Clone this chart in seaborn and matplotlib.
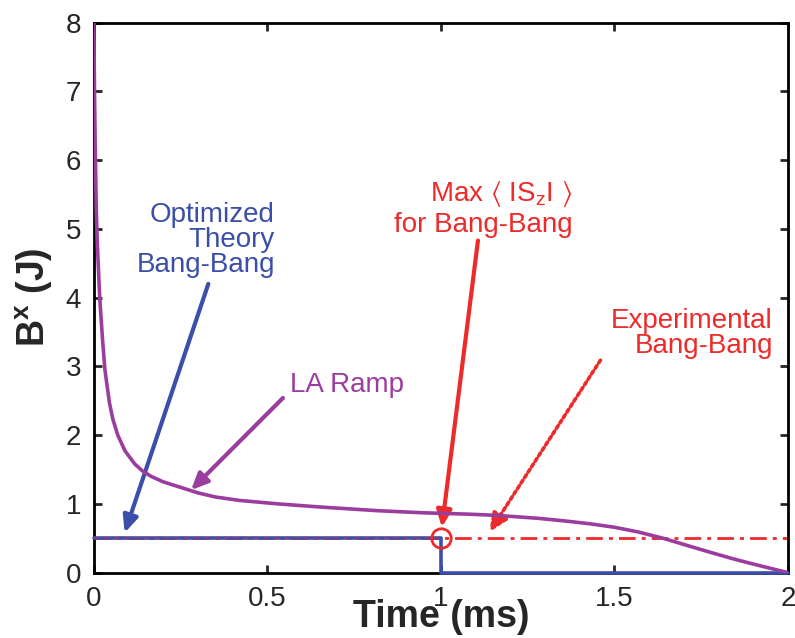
import numpy as np
import pandas as pd
import matplotlib
matplotlib.use("Agg")
import matplotlib.pyplot as plt
import seaborn as sns

# LA ramp
ramp_t = [0.0, 0.002, 0.004, 0.007, 0.010, 0.017, 0.025, 0.032, 0.045, 0.055,
          0.069, 0.09, 0.118, 0.14, 0.165, 0.2, 0.25, 0.3, 0.35, 0.42,
          0.53, 0.65, 0.82, 0.95, 1.08, 1.15, 1.21, 1.28, 1.36, 1.43,
          1.5, 1.57, 1.64, 1.71, 1.78, 1.85, 1.9, 1.95, 2.0]
ramp_b = [8.0, 7.0, 6.2, 5.3, 4.8, 4.0, 3.4, 2.95, 2.47, 2.23,
          2.0, 1.77, 1.58, 1.48, 1.4, 1.32, 1.24, 1.16, 1.1, 1.05,
          1.0, 0.955, 0.9, 0.87, 0.85, 0.835, 0.815, 0.79, 0.75, 0.71,
          0.66, 0.59, 0.5, 0.395, 0.29, 0.19, 0.125, 0.062, 0.0]

# bang-bang protocols
theory_t = [0.0, 1.0, 1.0, 2.0]
theory_b = [0.5, 0.5, 0.0, 0.0]
exp_t = [0.0, 2.0]
exp_b = [0.5, 0.5]
max_pt = (1.0, 0.5)

xticks = [0, 0.5, 1, 1.5, 2]
xticklabels = ["0", "0.5", "1", "1.5", "2"]
yticks = list(range(0, 9))

purple = "#9b3c9f"
blue = "#3b4eaa"
red = "#ee2a2a"

sns.set_style("ticks")
plt.rcParams["font.family"] = ["Liberation Sans", "DejaVu Sans"]
plt.rcParams["mathtext.fontset"] = "custom"
plt.rcParams["mathtext.rm"] = "Liberation Sans"
plt.rcParams["mathtext.bf"] = "Liberation Sans:bold"
plt.rcParams["mathtext.it"] = "Liberation Sans:italic"
plt.rcParams["mathtext.fallback"] = "stixsans"

fig = plt.figure(figsize=(7.95, 6.38), dpi=100)
ax = fig.add_axes([0.118, 0.1025, 0.873, 0.862])

ramp = pd.DataFrame({"t": ramp_t, "B": ramp_b})
theory = pd.DataFrame({"t": theory_t, "B": theory_b})
exper = pd.DataFrame({"t": exp_t, "B": exp_b})

sns.lineplot(data=exper, x="t", y="B", ax=ax, color=red, lw=2,
             linestyle=(0, (6, 2.2, 1.4, 2.2)), sort=False, estimator=None, zorder=2)
sns.lineplot(data=theory, x="t", y="B", ax=ax, color=blue, lw=2.6,
             sort=False, estimator=None, zorder=3, clip_on=False)
sns.lineplot(data=ramp, x="t", y="B", ax=ax, color=purple, lw=2.6,
             sort=False, estimator=None, zorder=4)
# red dashes showing through the blue segment
ax.plot([0, 1], [0.5, 0.5], color=red, lw=1.2, alpha=0.45,
        linestyle=(0, (3, 3)), zorder=5)
ax.plot([max_pt[0]], [max_pt[1]], marker="o", ms=14, mfc="none", mec=red,
        mew=2, zorder=6, clip_on=False)

ax.set_xlim(0, 2)
ax.set_ylim(0, 8)
ax.set_xticks(xticks)
ax.set_xticklabels(xticklabels)
ax.set_yticks(yticks)
ax.tick_params(direction="in", length=6, width=2, labelsize=20,
               top=True, right=True)
ax.tick_params(axis="y", pad=9)
ax.tick_params(axis="x", pad=10)
for sp in ax.spines.values():
    sp.set_linewidth(2)
    sp.set_color("black")

ax.set_xlabel("Time (ms)", fontsize=27, fontweight="bold")
ax.set_ylabel(r"$\mathbf{B^x}$ (J)", fontsize=27, fontweight="bold", va="center")
ax.xaxis.set_label_coords(0.5, -0.048)
ax.yaxis.set_label_coords(-0.086, 0.5)

arrow = dict(arrowstyle="-|>,head_length=1.0,head_width=0.45", lw=3, shrinkA=0, shrinkB=0)

ax.text(0.522, 4.37, "Optimized\nTheory\nBang-Bang", color=blue, fontsize=20,
        ha="right", va="baseline", linespacing=0.95)
ax.annotate("", xy=(0.089, 0.58), xytext=(0.33, 4.2),
            arrowprops=dict(arrow, color=blue))

ax.text(0.565, 2.62, "LA Ramp", color=purple, fontsize=20, ha="left", va="baseline")
ax.annotate("", xy=(0.28, 1.2), xytext=(0.545, 2.54),
            arrowprops=dict(arrow, color=purple))

ax.text(1.38, 4.95, "Max $\\langle$ IS$_{\\mathregular{z}}$I $\\rangle$\nfor Bang-Bang",
        color=red, fontsize=20, ha="right", va="baseline", linespacing=1.15)
ax.annotate("", xy=(1.003, 0.66), xytext=(1.107, 4.83),
            arrowprops=dict(arrow, color=red))

ax.text(1.957, 3.19, "Experimental\nBang-Bang", color=red, fontsize=20,
        ha="right", va="baseline", linespacing=0.95)
ax.annotate("", xy=(1.14, 0.59), xytext=(1.46, 3.09),
            arrowprops=dict(arrowstyle="-|>,head_length=1.1,head_width=0.5",
                            lw=2.6, color=red, linestyle=(0, (0.9, 0.9)),
                            shrinkA=0, shrinkB=0))

fig.savefig("out.png", dpi=100)
